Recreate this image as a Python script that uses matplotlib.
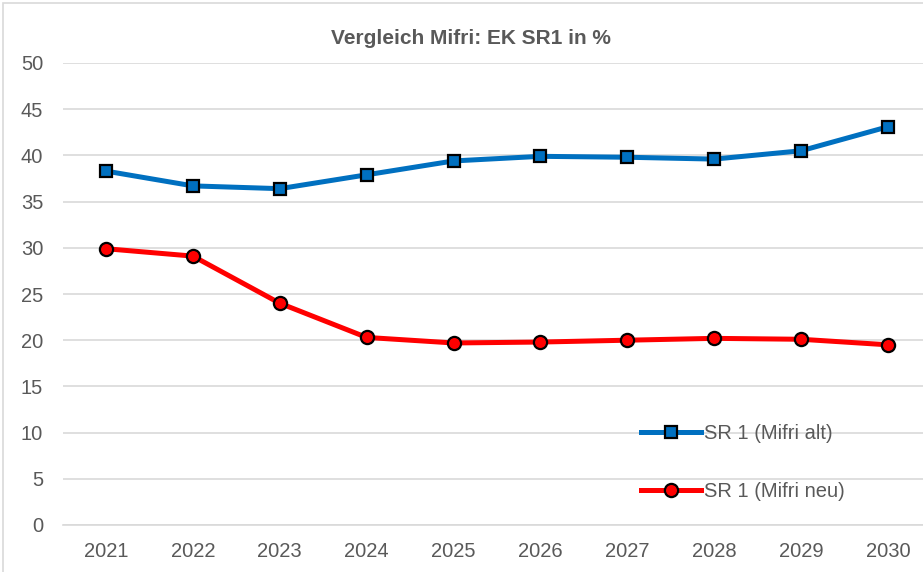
import matplotlib.pyplot as plt
from matplotlib.patches import Rectangle

plt.rcParams["font.family"] = ["Liberation Sans", "DejaVu Sans"]

years = ["2021", "2022", "2023", "2024", "2025", "2026", "2027", "2028", "2029", "2030"]
mifri_alt = [38.3, 36.7, 36.4, 37.9, 39.4, 39.9, 39.8, 39.6, 40.5, 43.1]
mifri_neu = [29.9, 29.1, 24.0, 20.3, 19.7, 19.8, 20.0, 20.2, 20.1, 19.5]

TEXT = "#595959"
W, H = 923, 572

fig = plt.figure(figsize=(W / 100, H / 100), dpi=100)
# plot area in pixel terms: x 62.6..931.4 (cut off at right), y 63..525
left, right, top, bottom = 62.6, 931.4, 63, 525
ax = fig.add_axes([left / W, 1 - bottom / H, (right - left) / W, (bottom - top) / H])

x = list(range(len(years)))
ax.plot(x, mifri_alt, color="#0070C0", lw=3.6, marker="s", ms=8.5,
        mfc="#0070C0", mec="black", mew=1.6, label="SR 1 (Mifri alt)", zorder=3)
ax.plot(x, mifri_neu, color="#FF0000", lw=3.6, marker="o", ms=9.5,
        mfc="#FF0000", mec="black", mew=1.6, label="SR 1 (Mifri neu)", zorder=3)

ax.set_xlim(-0.5, len(years) - 0.5)
ax.set_ylim(0, 50)
ax.set_yticks(range(0, 51, 5))
ax.set_xticks(x)
ax.set_xticklabels(years)
ax.grid(axis="y", color="#D9D9D9", lw=1.2)
ax.set_axisbelow(True)
for s in ["top", "right", "left"]:
    ax.spines[s].set_visible(False)
ax.spines["bottom"].set_color("#D9D9D9")
ax.spines["bottom"].set_linewidth(1.2)
ax.tick_params(axis="both", length=0, labelsize=14.5, labelcolor=TEXT)
ax.tick_params(axis="y", pad=14)
ax.tick_params(axis="x", pad=12)

fig.text(471 / W, 1 - 38 / H, "Vergleich Mifri: EK SR1 in %", ha="center", va="center",
         fontsize=15, fontweight="bold", color=TEXT)

leg = fig.legend(loc="upper left", bbox_to_anchor=(641 / W, 1 - 424 / H), frameon=False,
                 fontsize=14.5, labelcolor=TEXT, handlelength=3.0, handletextpad=0.15,
                 labelspacing=1.95, borderpad=0, borderaxespad=0)

# chart border (only top and left visible in the crop)
fig.add_artist(Rectangle((3 / W, -0.1), 2, (1 - 3 / H) + 0.1, transform=fig.transFigure,
                         fill=False, ec="#D9D9D9", lw=1.2))

fig.savefig("out.png", dpi=100)
